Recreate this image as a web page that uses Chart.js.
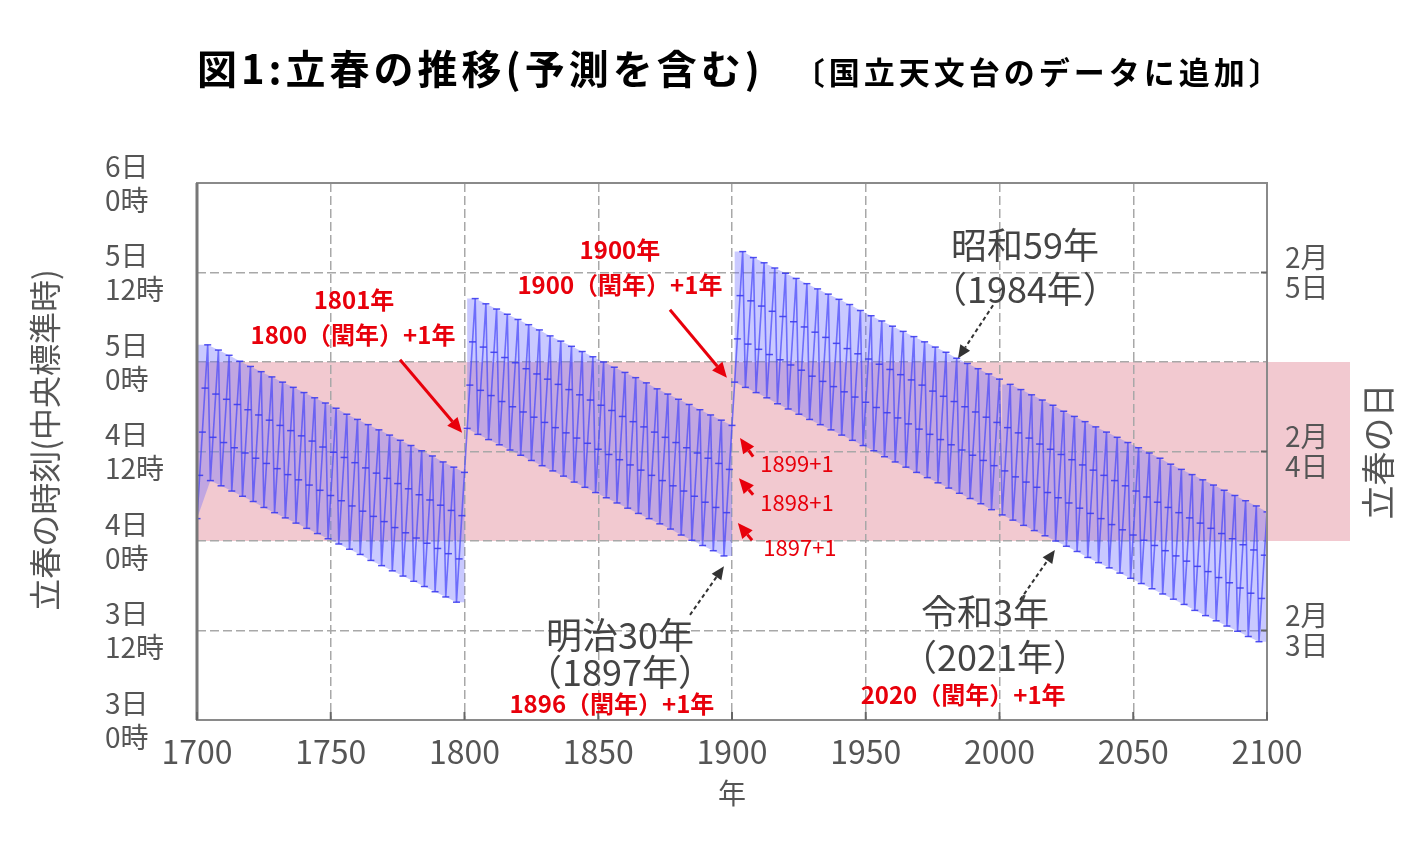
<!DOCTYPE html>
<html lang="ja">
<head>
<meta charset="utf-8">
<title>立春の推移</title>
<script src="https://cdn.jsdelivr.net/npm/chart.js@4.4.1/dist/chart.umd.min.js"></script>
<style>
    html, body { margin: 0; padding: 0; background: #fff; }
    #wrap { position: relative; width: 1428px; height: 842px; }
    #risshunChart { position: absolute; left: 0; top: 0; }
    #title {
        position: absolute; left: 197px; top: 47px; white-space: nowrap; line-height: 1;
        font-family: 'Noto Sans CJK JP', sans-serif; font-weight: 700; color: #000;
    }
    #title .main { font-size: 40px; letter-spacing: 4px; }
    #title .sub { font-size: 31px; letter-spacing: 4px; margin-left: 30px; }
</style>
</head>
<body>
<div id="wrap">
    <canvas id="risshunChart" width="1428" height="842"></canvas>
    <div id="title"><span class="main">図1:立春の推移(予測を含む)</span><span class="sub">〔国立天文台のデータに追加〕</span></div>
</div>
<script>
// 立春の時刻 = 2月3日0時からの経過時間(時間)。年ごとの値、閏年の翌年で約18時間戻る
const startYears = [1700, 1801, 1901, 2001];

const hours1700to1800 = [
    27.0,
    32.8, 38.6, 44.5, 50.3,  32.1, 37.9, 43.7, 49.6,  31.4, 37.2, 43.0, 48.9,  30.7, 36.5, 42.3, 48.1,
    30.0, 35.8, 41.6, 47.4,  29.3, 35.1, 40.9, 46.7,  28.5, 34.4, 40.2, 46.0,  27.8, 33.7, 39.5, 45.3,
    27.1, 32.9, 38.8, 44.6,  26.4, 32.2, 38.1, 43.9,  25.7, 31.5, 37.4, 43.2,  25.0, 30.8, 36.6, 42.5,
    24.3, 30.1, 35.9, 41.8,  23.6, 29.4, 35.2, 41.0,  22.9, 28.7, 34.5, 40.3,  22.2, 28.0, 33.8, 39.6,
    21.4, 27.3, 33.1, 38.9,  20.7, 26.6, 32.4, 38.2,  20.0, 25.8, 31.7, 37.5,  19.3, 25.1, 31.0, 36.8,
    18.6, 24.4, 30.2, 36.1,  17.9, 23.7, 29.5, 35.4,  17.2, 23.0, 28.8, 34.6,  16.5, 22.3, 28.1, 33.9,
    15.8, 21.6, 27.4, 33.2
];
const hours1801to1900 = [
    39.1, 44.9, 50.7, 56.5,  38.3, 44.2, 50.0, 55.8,  37.6, 43.5, 49.3, 55.1,  36.9, 42.7, 48.6, 54.4,
    36.2, 42.0, 47.9, 53.7,  35.5, 41.3, 47.1, 53.0,  34.8, 40.6, 46.4, 52.3,  34.1, 39.9, 45.7, 51.5,
    33.4, 39.2, 45.0, 50.8,  32.7, 38.5, 44.3, 50.1,  31.9, 37.8, 43.6, 49.4,  31.2, 37.1, 42.9, 48.7,
    30.5, 36.3, 42.2, 48.0,  29.8, 35.6, 41.5, 47.3,  29.1, 34.9, 40.7, 46.6,  28.4, 34.2, 40.0, 45.9,
    27.7, 33.5, 39.3, 45.2,  27.0, 32.8, 38.6, 44.4,  26.3, 32.1, 37.9, 43.7,  25.6, 31.4, 37.2, 43.0,
    24.8, 30.7, 36.5, 42.3,  24.1, 30.0, 35.8, 41.6,  23.4, 29.2, 35.1, 40.9,  22.7, 28.5, 34.4, 40.2,
    22.0, 27.8, 33.6, 39.5
];
const hours1901to2000 = [
    45.3, 51.1, 56.9, 62.8,  44.6, 50.4, 56.2, 62.0,  43.9, 49.7, 55.5, 61.3,  43.2, 49.0, 54.8, 60.6,
    42.4, 48.3, 54.1, 59.9,  41.7, 47.6, 53.4, 59.2,  41.0, 46.9, 52.7, 58.5,  40.3, 46.1, 52.0, 57.8,
    39.6, 45.4, 51.3, 57.1,  38.9, 44.7, 50.5, 56.4,  38.2, 44.0, 49.8, 55.7,  37.5, 43.3, 49.1, 54.9,
    36.8, 42.6, 48.4, 54.2,  36.1, 41.9, 47.7, 53.5,  35.3, 41.2, 47.0, 52.8,  34.6, 40.5, 46.3, 52.1,
    33.9, 39.7, 45.6, 51.4,  33.2, 39.0, 44.9, 50.7,  32.5, 38.3, 44.1, 50.0,  31.8, 37.6, 43.4, 49.3,
    31.1, 36.9, 42.7, 48.5,  30.4, 36.2, 42.0, 47.8,  29.7, 35.5, 41.3, 47.1,  29.0, 34.8, 40.6, 46.4,
    28.2, 34.1, 39.9, 45.7
];
const hours2001to2100 = [
    27.5, 33.4, 39.2, 45.0,  26.8, 32.6, 38.5, 44.3,  26.1, 31.9, 37.8, 43.6,  25.4, 31.2, 37.0, 42.9,
    24.7, 30.5, 36.3, 42.2,  24.0, 29.8, 35.6, 41.4,  23.3, 29.1, 34.9, 40.7,  22.6, 28.4, 34.2, 40.0,
    21.8, 27.7, 33.5, 39.3,  21.1, 27.0, 32.8, 38.6,  20.4, 26.2, 32.1, 37.9,  19.7, 25.5, 31.4, 37.2,
    19.0, 24.8, 30.7, 36.5,  18.3, 24.1, 29.9, 35.8,  17.6, 23.4, 29.2, 35.1,  16.9, 22.7, 28.5, 34.3,
    16.2, 22.0, 27.8, 33.6,  15.5, 21.3, 27.1, 32.9,  14.7, 20.6, 26.4, 32.2,  14.0, 19.9, 25.7, 31.5,
    13.3, 19.1, 25.0, 30.8,  12.6, 18.4, 24.3, 30.1,  11.9, 17.7, 23.5, 29.4,  11.2, 17.0, 22.8, 28.7,
    10.5, 16.3, 22.1, 27.9
];
const hourBands = [hours1700to1800, hours1801to1900, hours1901to2000, hours2001to2100];

// 軸の目盛
const yTickValues = [0, 12, 24, 36, 48, 60, 72];
const yTickLabels = [['3日', '0時'], ['3日', '12時'], ['4日', '0時'], ['4日', '12時'], ['5日', '0時'], ['5日', '12時'], ['6日', '0時']];
const rightTickValues = [12, 36, 60];
const rightTickLabels = [['2月', '3日'], ['2月', '4日'], ['2月', '5日']];

// 立春の日が2月4日になる範囲 (4日0時〜5日0時)
const risshunDayFrom = 24;
const risshunDayTo = 48;

// 注記 (年, 時間)
const greyNotes = [
    { text: '昭和59年', x: 2009.5, y: 63.7 },
    { text: '（1984年）', x: 2009.5, y: 57.7 },
    { text: '明治30年', x: 1858.1, y: 11.4 },
    { text: '（1897年）', x: 1858.1, y: 6.4 },
    { text: '令和3年', x: 1994.6, y: 14.5 },
    { text: '（2021年）', x: 1998.3, y: 8.4 }
];
const greyArrows = [
    { from: [1997.6, 55.6], to: [1984.5, 48.5] },
    { from: [1884.3, 14.1], to: [1897.0, 20.6] },
    { from: [2007.7, 16.1], to: [2020.7, 22.8] }
];
const redNotes = [
    { text: '1801年', x: 1758.7, y: 56.3, bold: true },
    { text: '1800（閏年）+1年', x: 1758.3, y: 51.6, bold: true },
    { text: '1900年', x: 1858.1, y: 63.0, bold: true },
    { text: '1900（閏年）+1年', x: 1858.1, y: 58.3, bold: true },
    { text: '1899+1', x: 1924.3, y: 34.4, bold: false },
    { text: '1898+1', x: 1924.3, y: 29.1, bold: false },
    { text: '1897+1', x: 1925.4, y: 23.1, bold: false },
    { text: '1896（閏年）+1年', x: 1855.1, y: 2.1, bold: true },
    { text: '2020（閏年）+1年', x: 1986.4, y: 3.4, bold: true }
];
const redArrows = [
    { from: [1775.9, 48.3], to: [1799.1, 38.5] },
    { from: [1876.8, 55.0], to: [1898.1, 45.9] },
    { from: [1907.9, 35.3], to: [1903.0, 37.8] },
    { from: [1907.9, 30.2], to: [1902.6, 32.4] },
    { from: [1907.5, 24.1], to: [1902.2, 26.4] }
];

const jpFont = "'Noto Sans CJK JP', 'Noto Sans', sans-serif";
const axisGrey = '#555';

let points = [];
hourBands.forEach((band, b) => {
    band.forEach((h, i) => points.push({ x: startYears[b] + i, y: h }));
});

function drawArrow(ctx, x1, y1, x2, y2, color, width, dash, head) {
    const ang = Math.atan2(y2 - y1, x2 - x1);
    const bx = x2 - head * Math.cos(ang);
    const by = y2 - head * Math.sin(ang);
    const hw = head * 0.45;

    ctx.strokeStyle = color;
    ctx.lineWidth = width;
    ctx.setLineDash(dash);
    ctx.beginPath();
    ctx.moveTo(x1, y1);
    ctx.lineTo(bx, by);
    ctx.stroke();
    ctx.setLineDash([]);

    ctx.fillStyle = color;
    ctx.beginPath();
    ctx.moveTo(x2, y2);
    ctx.lineTo(bx + hw * Math.sin(ang), by - hw * Math.cos(ang));
    ctx.lineTo(bx - hw * Math.sin(ang), by + hw * Math.cos(ang));
    ctx.closePath();
    ctx.fill();
}

// ピンクの帯 (グリッドより下)
const bandPlugin = {
    id: 'risshunBand',
    beforeDraw(chart) {
        const { ctx, chartArea, scales: { y } } = chart;
        const top = y.getPixelForValue(risshunDayTo);
        const bottom = y.getPixelForValue(risshunDayFrom);
        ctx.save();
        ctx.fillStyle = '#f2c9d0';
        ctx.fillRect(chartArea.left, top, chartArea.right + 83 - chartArea.left, bottom - top);
        ctx.restore();
    }
};

// 各世紀の値の山と谷を結んだ範囲を薄い青で塗る
const envelopePlugin = {
    id: 'envelope',
    beforeDatasetsDraw(chart) {
        const { ctx, scales: { x, y } } = chart;
        ctx.save();
        ctx.fillStyle = 'rgba(105, 105, 255, 0.36)';
        hourBands.forEach((band, b) => {
            let upper = [];
            let lower = [];
            for (let i = 0; i < band.length; i++) {
                const yr = startYears[b] + i;
                if (i === band.length - 1 || band[i] > band[i + 1]) upper.push([yr, band[i]]);
                if (i === 0 || band[i] < band[i - 1]) lower.push([yr, band[i]]);
            }
            upper.unshift([startYears[b], upper[0][1]]);
            lower.push([startYears[b] + band.length - 1, lower[lower.length - 1][1]]);
            const outline = upper.concat(lower.reverse());

            ctx.beginPath();
            outline.forEach((p, i) => {
                const px = x.getPixelForValue(p[0]);
                const py = y.getPixelForValue(p[1]);
                if (i === 0) ctx.moveTo(px, py); else ctx.lineTo(px, py);
            });
            ctx.closePath();
            ctx.fill();
        });
        ctx.restore();
    }
};

// 枠と内向きの目盛
const framePlugin = {
    id: 'frame',
    afterDatasetsDraw(chart) {
        const { ctx, chartArea: a, scales: { x, y2 } } = chart;
        ctx.save();
        ctx.strokeStyle = '#8a8a8a';
        ctx.lineWidth = 2;
        ctx.strokeRect(a.left, a.top, a.right - a.left, a.bottom - a.top);
        ctx.strokeStyle = '#777';
        ctx.lineWidth = 3;
        ctx.beginPath();
        ctx.moveTo(a.left, a.top);
        ctx.lineTo(a.left, a.bottom);
        ctx.stroke();

        ctx.lineWidth = 2;
        ctx.strokeStyle = '#666';
        x.ticks.forEach((t) => {
            const px = x.getPixelForValue(t.value);
            ctx.beginPath();
            ctx.moveTo(px, a.bottom);
            ctx.lineTo(px, a.bottom - 8);
            ctx.stroke();
        });
        rightTickValues.forEach((v) => {
            const py = y2.getPixelForValue(v);
            ctx.beginPath();
            ctx.moveTo(a.right, py);
            ctx.lineTo(a.right - 6, py);
            ctx.stroke();
        });
        ctx.restore();
    }
};

// 軸タイトルと注記
const notesPlugin = {
    id: 'notes',
    afterDraw(chart) {
        const { ctx, chartArea: a, scales: { x, y } } = chart;
        ctx.save();
        ctx.textAlign = 'center';
        ctx.textBaseline = 'middle';

        ctx.fillStyle = axisGrey;
        ctx.font = `32px ${jpFont}`;
        ctx.save();
        ctx.translate(45, 440);
        ctx.rotate(-Math.PI / 2);
        ctx.fillText('立春の時刻(中央標準時)', 0, 0);
        ctx.restore();

        ctx.font = `34px ${jpFont}`;
        ctx.save();
        ctx.translate(1378, y.getPixelForValue((risshunDayFrom + risshunDayTo) / 2));
        ctx.rotate(-Math.PI / 2);
        ctx.fillText('立春の日', 0, 0);
        ctx.restore();

        ctx.font = `28px ${jpFont}`;
        ctx.fillText('年', (a.left + a.right) / 2, 793);

        greyArrows.forEach((ar) => {
            drawArrow(ctx, x.getPixelForValue(ar.from[0]), y.getPixelForValue(ar.from[1]),
                x.getPixelForValue(ar.to[0]), y.getPixelForValue(ar.to[1]), '#333', 2, [4, 3], 13);
        });
        ctx.fillStyle = '#444';
        ctx.font = `36px ${jpFont}`;
        greyNotes.forEach((n) => {
            ctx.fillText(n.text, x.getPixelForValue(n.x), y.getPixelForValue(n.y));
        });

        redArrows.forEach((ar) => {
            drawArrow(ctx, x.getPixelForValue(ar.from[0]), y.getPixelForValue(ar.from[1]),
                x.getPixelForValue(ar.to[0]), y.getPixelForValue(ar.to[1]), '#e8000b', 3, [], 15);
        });
        ctx.fillStyle = '#e8000b';
        redNotes.forEach((n) => {
            ctx.font = n.bold ? `bold 24px ${jpFont}` : `22px ${jpFont}`;
            ctx.fillText(n.text, x.getPixelForValue(n.x), y.getPixelForValue(n.y));
        });
        ctx.restore();
    }
};

const risshunConfig = {
    type: 'line',
    data: {
        datasets: [{
            label: '立春の時刻',
            data: points,
            borderColor: 'rgba(70, 70, 250, 0.7)',
            borderWidth: 1.6,
            pointStyle: 'line',
            pointRadius: 3.5,
            pointBorderColor: 'rgba(60, 60, 240, 0.9)',
            pointBorderWidth: 1.5,
            tension: 0
        }]
    },
    options: {
        responsive: false,
        animation: false,
        layout: {
            padding: { left: 105, right: 0, top: 183, bottom: 0 }
        },
        plugins: {
            legend: { display: false },
            tooltip: { enabled: false }
        },
        scales: {
            x: {
                type: 'linear',
                min: 1700,
                max: 2100,
                afterFit: (scale) => { scale.height = 122; },
                ticks: {
                    stepSize: 50,
                    padding: 13,
                    color: axisGrey,
                    font: { family: jpFont, size: 32 },
                    callback: (value) => `${value}`
                },
                grid: { color: '#a8a8a8', lineWidth: 1.5, drawTicks: false },
                border: { display: false, dash: [9, 4] }
            },
            y: {
                min: 0,
                max: 72,
                afterFit: (scale) => { scale.width = 92; },
                ticks: {
                    stepSize: 12,
                    autoSkip: false,
                    crossAlign: 'far',
                    color: axisGrey,
                    font: { family: jpFont, size: 28, lineHeight: 1.22 },
                    callback: (value) => yTickLabels[yTickValues.indexOf(value)]
                },
                grid: { color: '#a8a8a8', lineWidth: 1.5, drawTicks: false },
                border: { display: false, dash: [9, 4] }
            },
            y2: {
                position: 'right',
                min: 0,
                max: 72,
                afterFit: (scale) => { scale.width = 161; },
                afterBuildTicks: (scale) => { scale.ticks = rightTickValues.map(v => ({ value: v })); },
                ticks: {
                    autoSkip: false,
                    padding: 18,
                    color: axisGrey,
                    font: { family: jpFont, size: 28, lineHeight: 1.05 },
                    callback: (value) => rightTickLabels[rightTickValues.indexOf(value)]
                },
                grid: { drawOnChartArea: false, drawTicks: false },
                border: { display: false }
            }
        }
    },
    plugins: [bandPlugin, envelopePlugin, framePlugin, notesPlugin]
};

const myChart = new Chart(document.getElementById('risshunChart'), risshunConfig);
</script>
</body>
</html>
